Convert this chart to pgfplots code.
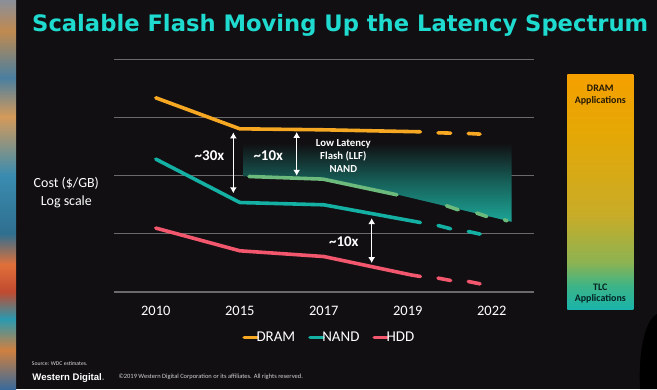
\documentclass[border=0pt]{standalone}
\usepackage{fontspec}
\setmainfont{Carlito}
\newfontfamily\titlefont{DejaVu Sans}
\newfontfamily\logofont{Liberation Sans}
\usepackage{graphicx}
\usepackage{pgfplots}
\pgfplotsset{compat=1.18}
\usetikzlibrary{arrows.meta}

\definecolor{bg}{HTML}{110F12}
\definecolor{dram}{HTML}{F7A823}
\definecolor{nand}{HTML}{14B0A4}
\definecolor{hdd}{HTML}{F2576E}
\definecolor{llf}{HTML}{6CBB7C}
\definecolor{titlec}{HTML}{1FDBCF}
\definecolor{gridc}{HTML}{6A6A6A}
\definecolor{areac}{HTML}{1CA596}
% right panel
\definecolor{pA}{HTML}{19B4AA}
\definecolor{pB}{HTML}{3DB487}
\definecolor{pC}{HTML}{8DB352}
\definecolor{pD}{HTML}{C8AC28}
\definecolor{pE}{HTML}{E4A806}
\definecolor{pF}{HTML}{F5A000}
% left art strip
\definecolor{s1}{HTML}{8A8F9A}
\definecolor{s2}{HTML}{C08A50}
\definecolor{s3}{HTML}{4A7FA0}
\definecolor{s4}{HTML}{D49A5A}
\definecolor{s5}{HTML}{3A8CB0}
\definecolor{s6}{HTML}{2F6F90}
\definecolor{s7}{HTML}{E0703A}
\definecolor{s8}{HTML}{C04A30}
\definecolor{s9}{HTML}{2A9AB0}
\definecolor{s10}{HTML}{D08040}
\definecolor{s11}{HTML}{3A6A9A}

\pgfdeclareverticalshading{apps}{100bp}{color(0bp)=(pA); color(25bp)=(pA); color(30bp)=(pB); color(35bp)=(pC); color(45bp)=(pD); color(62bp)=(pE); color(75bp)=(pF); color(100bp)=(pF)}
\pgfdeclareverticalshading{art}{100bp}{color(0bp)=(s11); color(25bp)=(s11); color(30bp)=(s10); color(34bp)=(s9); color(37.5bp)=(s8); color(41bp)=(s7); color(45bp)=(s6); color(52.5bp)=(s5); color(60bp)=(s4); color(65bp)=(s3); color(71bp)=(s2); color(75bp)=(s1); color(100bp)=(s1)}

\pgfplotsset{
  dramst/.style={dram, line width=3.6bp, line cap=round, line join=round},
  nandst/.style={nand, line width=3.6bp, line cap=round, line join=round},
  hddst/.style={hdd, line width=3.6bp, line cap=round, line join=round},
  llfst/.style={llf, line width=3.6bp, line cap=round, line join=round},
}

\begin{document}
\begin{tikzpicture}[x=1bp,y=1bp]
\fill[bg] (0,0) rectangle (657,389);
\useasboundingbox (0,0) rectangle (657,389);
% decorative strip on the left
\shade[shading=art] (0,0) rectangle (16,389);
% dark blob bottom right
\fill[black] (657,0) -- (657,75) .. controls (646,70) and (638,40) .. (640,0) -- cycle;

% title
\node[anchor=base west, inner sep=0, text=titlec] at (32,358)
  {\resizebox{616bp}{!}{\titlefont\bfseries\fontsize{23}{28}\selectfont Scalable Flash Moving Up the Latency Spectrum}};

% right panel
\shade[shading=apps] (567.3,79.7) rectangle (633.3,315);
\node[anchor=north, inner sep=0, align=center, text=black!75!dram!60!black, font=\bfseries\fontsize{10}{11.5}\selectfont] at (600.3,304) {DRAM\\Applications};
\node[anchor=north, inner sep=0, align=center, text=black!80!nand, font=\bfseries\fontsize{10}{11.5}\selectfont] at (600.3,105.7) {TLC\\Applications};

% footer
\node[anchor=west, inner sep=0, text=white!85!black] at (31.7,25.7)
  {\resizebox{55.6bp}{!}{\fontsize{6}{7}\selectfont Source: WDC estimates.}};
\node[anchor=base west, inner sep=0, text=white] at (32.3,9)
  {\resizebox{72bp}{!}{\logofont\bfseries\fontsize{10}{12}\selectfont Western Digital{\color{gray}.}}};
\node[anchor=west, inner sep=0, text=white!82!black] at (118.3,11.7)
  {\resizebox{184.4bp}{!}{\fontsize{6}{7}\selectfont ©2019 Western Digital Corporation or its affiliates. All rights reserved.}};

\begin{axis}[
  at={(113.8bp,97bp)}, anchor=south west,
  scale only axis, width=420bp, height=232.4bp,
  xmin=-0.5, xmax=4.5, ymin=0.01, ymax=100, ymode=log,
  clip=false,
  axis line style={draw=none},
  major tick length=0pt, minor tick length=0pt, tick style={draw=none},
  xtick={0,1,2,3,4}, xticklabels={2010,2015,2017,2019,2022},
  xticklabel style={text=white, font=\fontsize{14.5}{17}\selectfont, anchor=base, yshift=-23.7bp},
  ytick={0.01,0.1,1,10,100}, yticklabels={{},{},{},{},{}},
  yticklabel style={opacity=0},
  ymajorgrids, grid style={gridc, line width=1.1bp},
  ylabel={Cost (\$/GB)\\Log scale},
  ylabel style={at={(axis description cs:-0.113,0.428)}, rotate=-90, anchor=center, align=center, text=white, font=\fontsize{14}{17.3}\selectfont},
  legend columns=-1,
  legend style={at={(axis description cs:0.512,-0.196)}, anchor=center, draw=none, fill=none, text=white,
    font=\fontsize{15}{17}\selectfont,
    /tikz/every odd column/.append style={column sep=-3.5bp},
    /tikz/every even column/.append style={column sep=12bp},
    nodes={inner xsep=1bp}},
  legend image code/.code={\draw[#1, line width=3.6bp, line cap=round] (0bp,0bp) -- (13bp,0bp);},
]
% low latency flash band
\addplot[forget plot, draw=none, top color=bg, bottom color=areac, middle color=bg!45!areac, shading angle=0]
  coordinates {(1.042,3.65) (4.237,3.65) (4.237,0.1615) (2.887,0.471) (1.987,0.877) (1.094,0.973) (1.042,0.976)} -- cycle;

\addplot[dramst] coordinates {(0,22.0) (1,6.44) (2,6.19) (3.15,5.72)};
\addlegendentry{DRAM}
\addplot[nandst] coordinates {(0,1.94) (1,0.347) (2,0.317) (3.15,0.157)};
\addlegendentry{NAND}
\addplot[hddst] coordinates {(0,0.126) (1,0.0512) (2,0.0408) (3.03,0.0198) (3.15,0.0185)};
\addlegendentry{HDD}

% projected (dashed) parts
\addplot[dramst, forget plot] coordinates {(3.36,5.50) (3.51,5.43)};
\addplot[dramst, forget plot] coordinates {(3.72,5.35) (3.86,5.22)};
\addplot[nandst, forget plot] coordinates {(3.36,0.1395) (3.51,0.1225)};
\addplot[nandst, forget plot] coordinates {(3.72,0.110) (3.86,0.0993)};
\addplot[hddst, forget plot] coordinates {(3.36,0.01734) (3.51,0.01578)};
\addplot[hddst, forget plot] coordinates {(3.72,0.01517) (3.86,0.01383)};

% LLF NAND
\addplot[llfst, forget plot] coordinates {(1.11,0.973) (1.99,0.877) (2.87,0.471)};
\addplot[llfst, forget plot] coordinates {(3.46,0.305) (3.60,0.260)};
\addplot[llfst, forget plot] coordinates {(3.82,0.228) (3.94,0.1994)};
\addplot[llfst, forget plot] coordinates {(4.15,0.1749) (4.18,0.168)};

% annotations
\draw[white, line width=1.3bp, {Latex[length=6bp,width=7bp]}-{Latex[length=6bp,width=7bp]}] (axis cs:0.923,5.6) -- (axis cs:0.923,0.50);
\draw[white, line width=1.3bp, {Latex[length=6bp,width=7bp]}-{Latex[length=6bp,width=7bp]}] (axis cs:1.677,5.7) -- (axis cs:1.677,1.0);
\draw[white, line width=1.3bp, {Latex[length=6bp,width=7bp]}-{Latex[length=6bp,width=7bp]}] (axis cs:2.570,0.187) -- (axis cs:2.570,0.0314);
\node[text=white, font=\bfseries\fontsize{15}{18}\selectfont, anchor=base, inner sep=0] at (axis cs:0.639,1.81) {\textasciitilde30x};
\node[text=white, font=\bfseries\fontsize{15}{18}\selectfont, anchor=base, inner sep=0] at (axis cs:1.339,1.81) {\textasciitilde10x};
\node[text=white, font=\bfseries\fontsize{15}{18}\selectfont, anchor=base, inner sep=0] at (axis cs:2.238,0.0607) {\textasciitilde10x};
\node[text=white, font=\bfseries\fontsize{10.8}{13}\selectfont, align=center, anchor=north, inner sep=0] at (axis cs:2.232,4.28) {Low Latency\\Flash (LLF)\\NAND};
\end{axis}
\end{tikzpicture}
\end{document}
